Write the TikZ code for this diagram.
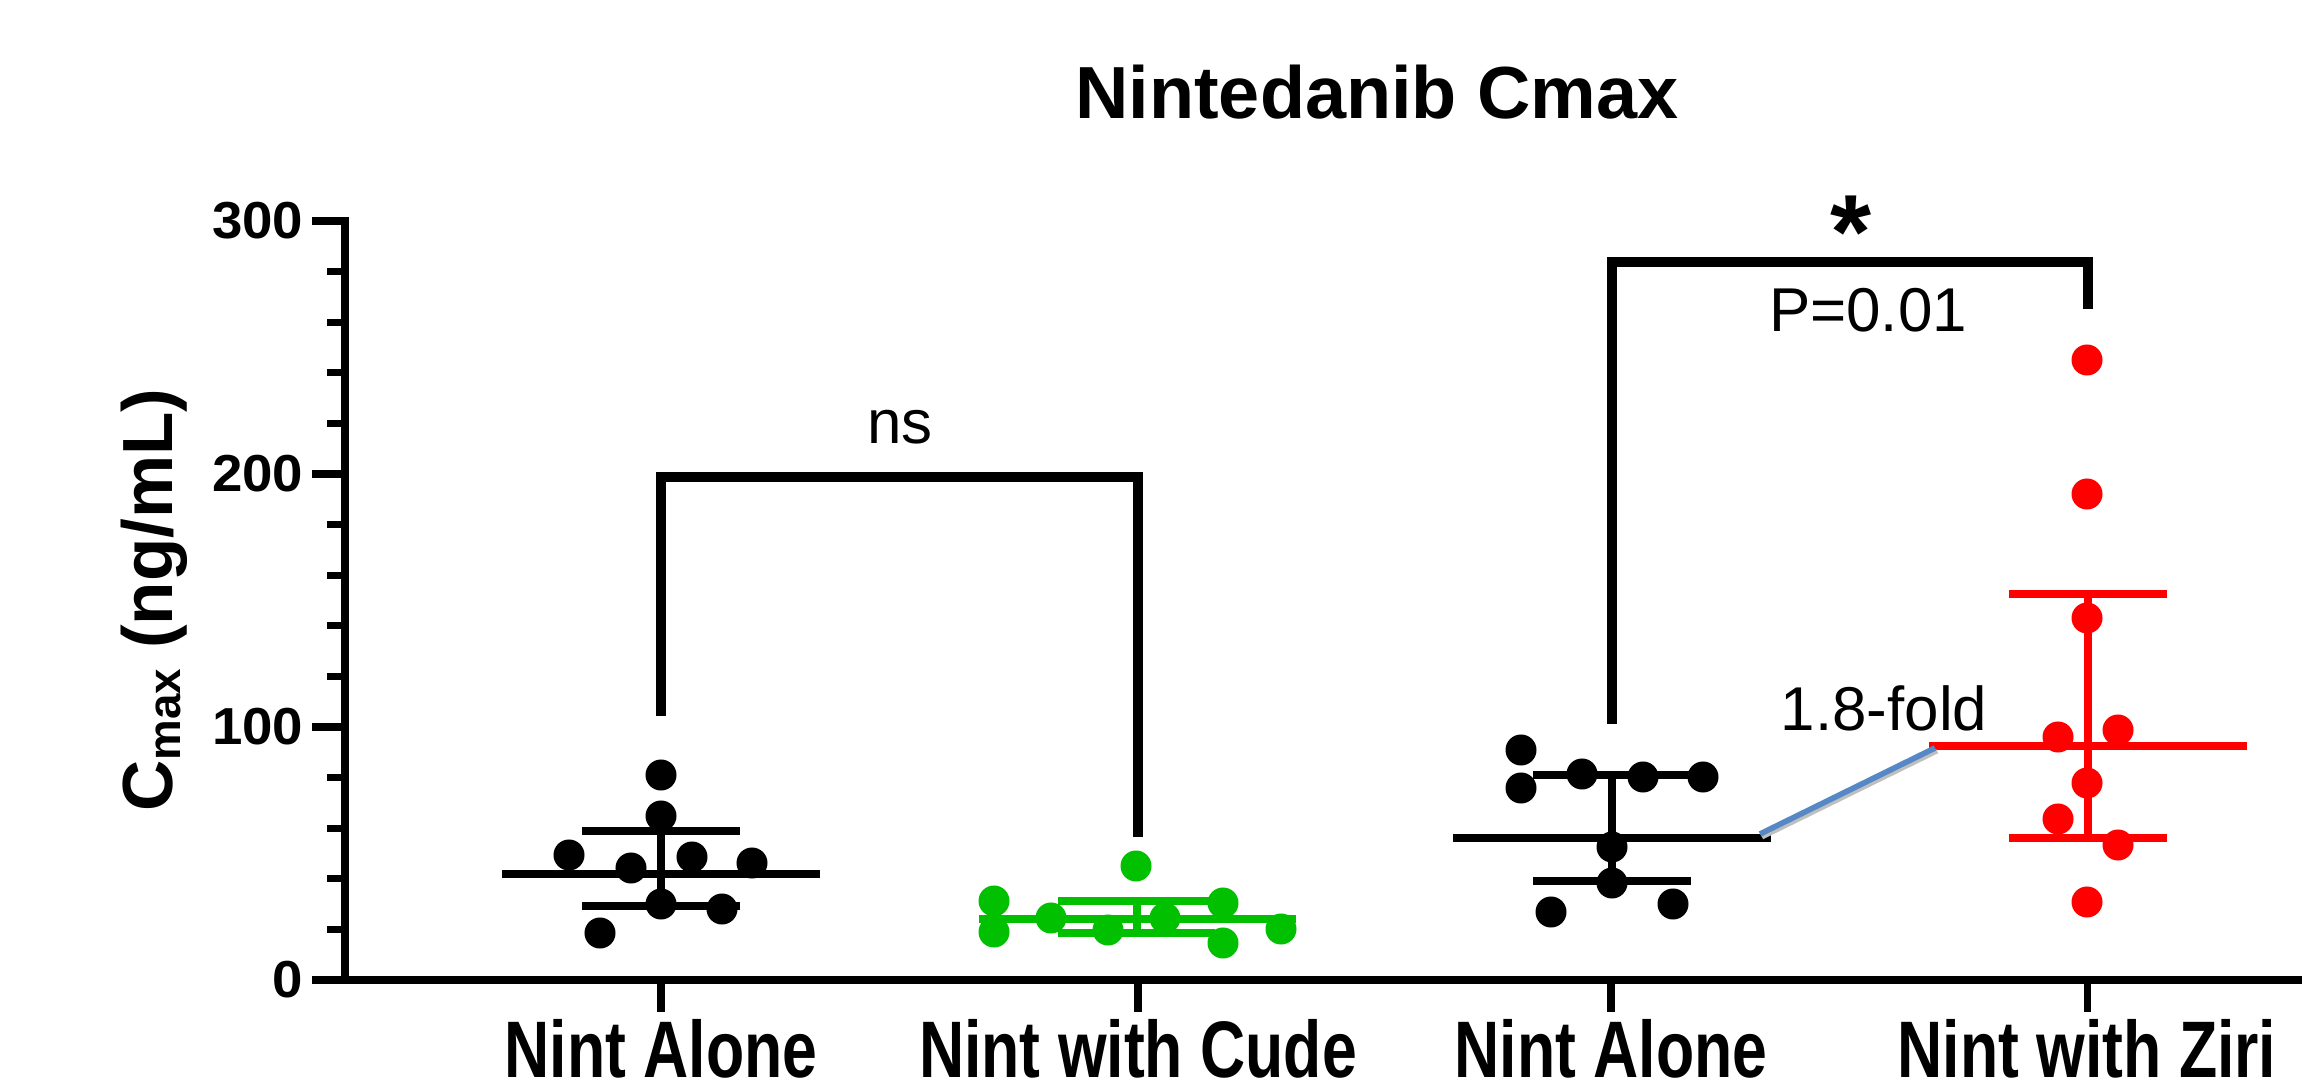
\documentclass[tikz,border=0pt]{standalone}
\usepackage{fontspec}
\setmainfont{Liberation Sans}
\definecolor{pgreen}{RGB}{0,192,0}
\definecolor{pred}{RGB}{255,0,0}
\definecolor{pblue}{RGB}{86,136,198}
\begin{document}
\begin{tikzpicture}[x=0.01cm,y=-0.01cm,
  ax/.style={line width=2pt},
  brk/.style={line width=3.1pt,line join=miter},
  sline/.style={line width=2.1pt},
  ticklab/.style={anchor=east,inner sep=0pt,font=\fontsize{14.8}{17}\selectfont\bfseries},
  catlab/.style={anchor=base,inner sep=0pt,font=\fontsize{22.8}{26}\selectfont\bfseries},
  plainlab/.style={anchor=base,inner sep=0pt,font=\fontsize{17.6}{20}\selectfont}]
\useasboundingbox (0,0) rectangle (2302,1079);

% title
\node[anchor=base,inner sep=0pt,font=\fontsize{21}{25}\selectfont\bfseries] (title) at (1377,119) {Nintedanib Cmax};

% axes
\draw[ax] (345,217.5) -- (345,983.5);
\draw[ax] (312,980) -- (2302,980);
\foreach \y in {221,474,727} \draw[ax] (312,\y) -- (345,\y);
\foreach \k in {1,2,3,4,6,7,8,9,11,12,13,14} \draw[ax] (327,{221+\k*50.6}) -- (345,{221+\k*50.6});
\foreach \x in {661,1138,1611,2087} \draw[ax] (\x,980) -- (\x,1012);

% tick labels
\node[ticklab] (t300) at (304,221) {\scalebox{1.05}[1]{300}};
\node[ticklab] (t200) at (304,474) {\scalebox{1.05}[1]{200}};
\node[ticklab] (t100) at (304,727) {\scalebox{1.05}[1]{100}};
\node[ticklab] (t0) at (304,980) {\scalebox{1.05}[1]{0}};

% y-axis label
\node[anchor=base,inner sep=0pt,rotate=90,font=\fontsize{20.2}{23}\selectfont\bfseries] (ylab) at (172,600)
  {C\raisebox{-0.08cm}{\fontsize{13}{15}\selectfont max} (ng/mL)};

% category labels
\node[catlab] (c1) at (661,1077) {\scalebox{0.78}[1]{Nint Alone}};
\node[catlab] (c2) at (1138,1077) {\scalebox{0.78}[1]{Nint with Cude}};
\node[catlab] (c3) at (1611,1077) {\scalebox{0.78}[1]{Nint Alone}};
\node[catlab] (c4) at (2087,1077) {\scalebox{0.78}[1]{Nint with Ziri}};

% group 1 (black)
\foreach \x/\y in {661/775,661/816,569/855,631/868,692/857,752/863,661/904,722/909,600/933}
  \fill[black] (\x,\y) circle[radius=0.155cm];
\draw[sline] (502,874) -- (820,874);
\draw[sline] (582,831) -- (740,831);
\draw[sline] (582,906) -- (740,906);
\draw[sline] (661,831) -- (661,906);

% group 2 (green)
\foreach \x/\y in {1136/866,994/901,994/932,1051/918,1108/930,1165/918,1223/903,1223/943,1281/929}
  \fill[pgreen] (\x,\y) circle[radius=0.155cm];
\draw[sline,pgreen] (979,919) -- (1296,919);
\draw[sline,pgreen] (1058,901) -- (1215,901);
\draw[sline,pgreen] (1058,933) -- (1215,933);
\draw[sline,pgreen] (1137,901) -- (1137,933);

% group 3 (black)
\foreach \x/\y in {1521/750,1521/788,1582/774,1643/777,1703/777,1612/847,1612/883,1551/912,1673/904}
  \fill[black] (\x,\y) circle[radius=0.155cm];
\draw[sline] (1453,838) -- (1771,838);
\draw[sline] (1533,775) -- (1691,775);
\draw[sline] (1533,881) -- (1691,881);
\draw[sline] (1612,775) -- (1612,881);

% group 4 (red)
\foreach \x/\y in {2087/360,2087/494,2087/618,2058/737,2118/730,2087/783,2058/819,2118/845,2087/902}
  \fill[pred] (\x,\y) circle[radius=0.155cm];
\draw[sline,pred] (1929,746) -- (2247,746);
\draw[sline,pred] (2009,594) -- (2167,594);
\draw[sline,pred] (2009,838) -- (2167,838);
\draw[sline,pred] (2088,594) -- (2088,838);

% fold-change connector
\coordinate (m3r) at (1760,834);
\coordinate (m4l) at (1935,748);
\draw[line width=1.4pt,black!25] ([shift={(2,3)}]m3r) -- ([shift={(2,3)}]m4l);
\draw[line width=1.6pt,pblue] (m3r) -- (m4l);
\node[plainlab] (fold) at (1884,730) {1.8-fold};

% brackets
\draw[brk] (661,716) -- (661,477) -- (1138,477) -- (1138,837);
\node[plainlab] (ns) at (900,443) {ns};
\draw[brk] (1612,724) -- (1612,262) -- (2088,262) -- (2088,309);
\node[plainlab] (pval) at (1868,331) {P=0.01};
\node[anchor=north,inner sep=0pt,font=\fontsize{30}{34}\selectfont\bfseries] (star) at (1851,195) {*};
\end{tikzpicture}
\end{document}
